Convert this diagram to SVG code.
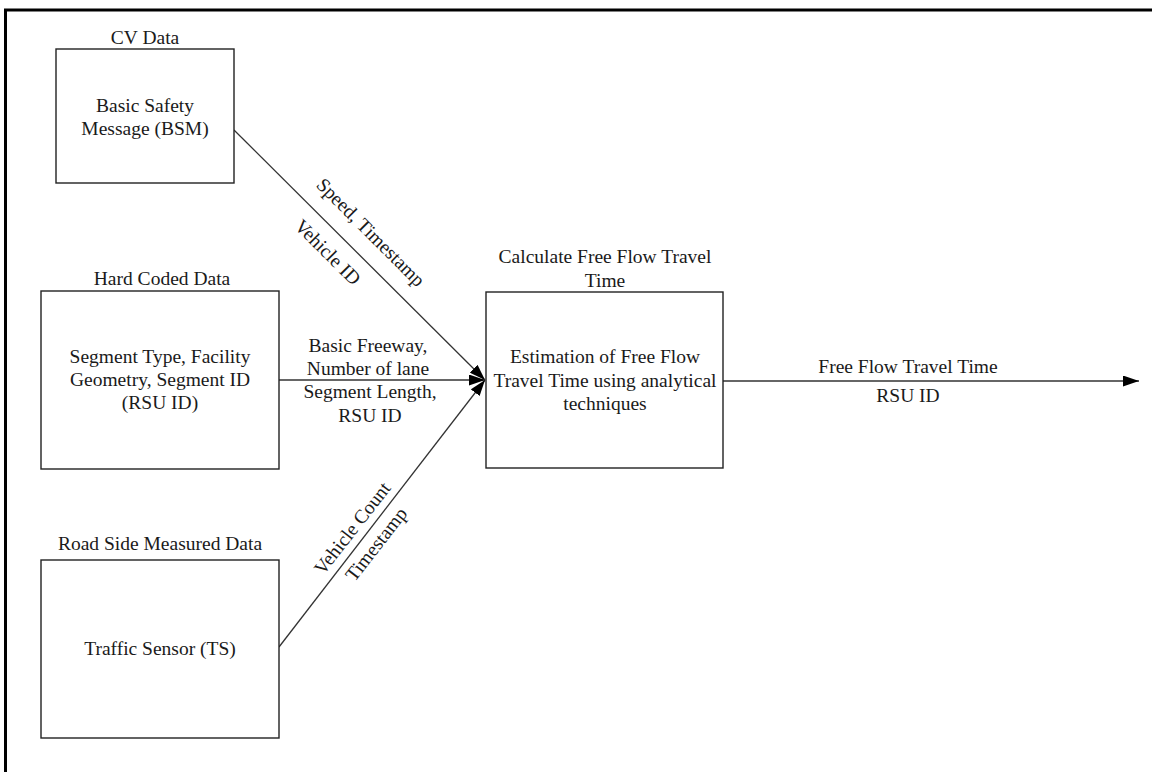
<svg xmlns="http://www.w3.org/2000/svg" width="1152" height="772" viewBox="0 0 1152 772">
<defs>
<style>
text{font-family:"Liberation Serif","Times New Roman",serif;font-size:19.5px;fill:#1a1a1a;text-anchor:middle}
.box{fill:#fff;stroke:#222;stroke-width:1.4}
.conn{stroke:#333;stroke-width:1.3;fill:none}
.border{stroke:#000;stroke-width:3;fill:none}
</style>
<marker id="arr" viewBox="0 0 16 11" refX="16" refY="5.5" markerWidth="16" markerHeight="11" markerUnits="userSpaceOnUse" orient="auto">
<path d="M0,0 L16,5.5 L0,11 z" fill="#000"/>
</marker>
</defs>
<rect width="1152" height="772" fill="#fff"/>
<g id="frame">
<path class="border" d="M5.5,772 L5.5,10 L1152,10"/>
</g>
<g id="connectors">
<line class="conn" x1="234" y1="130" x2="485" y2="380" marker-end="url(#arr)"/>
<line class="conn" x1="279" y1="380" x2="485" y2="380" marker-end="url(#arr)"/>
<line class="conn" x1="279" y1="647" x2="485" y2="380" marker-end="url(#arr)"/>
<line class="conn" x1="723" y1="381" x2="1139" y2="381" marker-end="url(#arr)"/>
<text transform="translate(371,232) rotate(45)" dy="0.35em">Speed, Timestamp</text>
<text transform="translate(328,252) rotate(45)" dy="0.35em">Vehicle ID</text>
<text x="368" y="352">Basic Freeway,</text>
<text x="368" y="375">Number of lane</text>
<text x="370" y="398">Segment Length,</text>
<text x="370" y="422">RSU ID</text>
<text transform="translate(352,528) rotate(-52)" dy="0.35em">Vehicle Count</text>
<text transform="translate(376,544) rotate(-52)" dy="0.35em">Timestamp</text>
<text x="908" y="373">Free Flow Travel Time</text>
<text x="908" y="402">RSU ID</text>
</g>
<g id="cv-data">
<text x="145" y="44">CV Data</text>
<rect class="box" x="56" y="49" width="178" height="134"/>
<text x="145" y="112">Basic Safety</text>
<text x="145" y="135">Message (BSM)</text>
</g>
<g id="hard-coded-data">
<text x="162" y="285">Hard Coded Data</text>
<rect class="box" x="41" y="291" width="238" height="178"/>
<text x="160" y="363">Segment Type, Facility</text>
<text x="160" y="386">Geometry, Segment ID</text>
<text x="160" y="409">(RSU ID)</text>
</g>
<g id="road-side-data">
<text x="160" y="550">Road Side Measured Data</text>
<rect class="box" x="41" y="560" width="238" height="178"/>
<text x="160" y="655">Traffic Sensor (TS)</text>
</g>
<g id="free-flow">
<text x="605" y="263">Calculate Free Flow Travel</text>
<text x="605" y="287">Time</text>
<rect class="box" x="486" y="292" width="237" height="176"/>
<text x="605" y="363">Estimation of Free Flow</text>
<text x="605" y="387">Travel Time using analytical</text>
<text x="605" y="410">techniques</text>
</g>
</svg>
